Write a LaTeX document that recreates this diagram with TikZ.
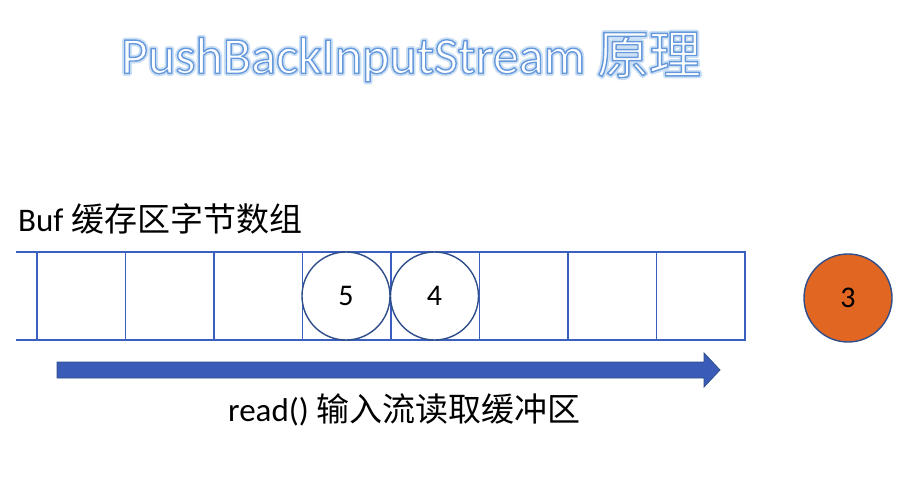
\documentclass[tikz,border=0pt]{standalone}
\usepackage{fontspec}
\usetikzlibrary{calc}
\setmainfont{Carlito}
\newfontfamily\cjk{Noto Sans CJK SC}
\definecolor{bufblue}{HTML}{3A5FBE}
\definecolor{circedge}{HTML}{2F4E8C}
\definecolor{arrowblue}{HTML}{3A5CB8}
\definecolor{orangefill}{HTML}{E06622}
\tikzset{
  bufline/.style={draw=bufblue, line width=1.6pt},
  ball/.style={circle, draw=circedge, line width=1.4pt, minimum size=88pt, inner sep=0pt, font=\fontsize{30}{32}\selectfont},
  label/.style={inner sep=0pt, font=\fontsize{33}{36}\selectfont, anchor=base west},
  titletxt/.style={inner sep=0pt, font=\fontsize{52}{56}\selectfont}
}
\newcommand{\titlestr}{PushBackInputStream {\cjk 原理}}
\newcommand{\glowon}{\special{pdf:literal direct 2 Tr 5 w 1 J 1 j 0.80 0.88 0.96 RG}}
\newcommand{\strokeon}{\special{pdf:literal direct 2 Tr 1.4 w 1 J 1 j 0.40 0.60 0.86 RG}}
\newcommand{\strokeoff}{\special{pdf:literal direct 0 Tr}}
\begin{document}
\begin{tikzpicture}[x=1pt,y=-1pt]
\useasboundingbox (0,0) rectangle (920,486);
% title with outline and glow
\node[titletxt, text=white] (title) at (411,57) {\glowon\titlestr\strokeoff};
\node[titletxt, text=white] at (title.center) {\strokeon\titlestr\strokeoff};
% labels
\node[label] (buflabel) at (18,232) {Buf {\cjk 缓存区字节数组}};
% buffer
\draw[bufline] (16,252) -- (745,252) -- (745,340) -- (16,340);
\foreach \i in {0,...,7} {
  \draw[bufline] ({37+88.5*\i},252) -- ({37+88.5*\i},340);
}
\node[ball, fill=white] (b5) at (346,296) {5};
\node[ball, fill=white] (b4) at (434.5,296) {4};
\node[ball, fill=orangefill] (b3) at (848,298) {3};
% arrow
\draw[fill=arrowblue, draw=circedge, line width=0.8pt]
  (57,362) -- (704,362) -- (704,353) -- (720,370) -- (704,387) -- (704,378) -- (57,378) -- cycle;
\node[label] (readlabel) at (228,421) {read() {\cjk 输入流读取缓冲区}};
\end{tikzpicture}
\end{document}
